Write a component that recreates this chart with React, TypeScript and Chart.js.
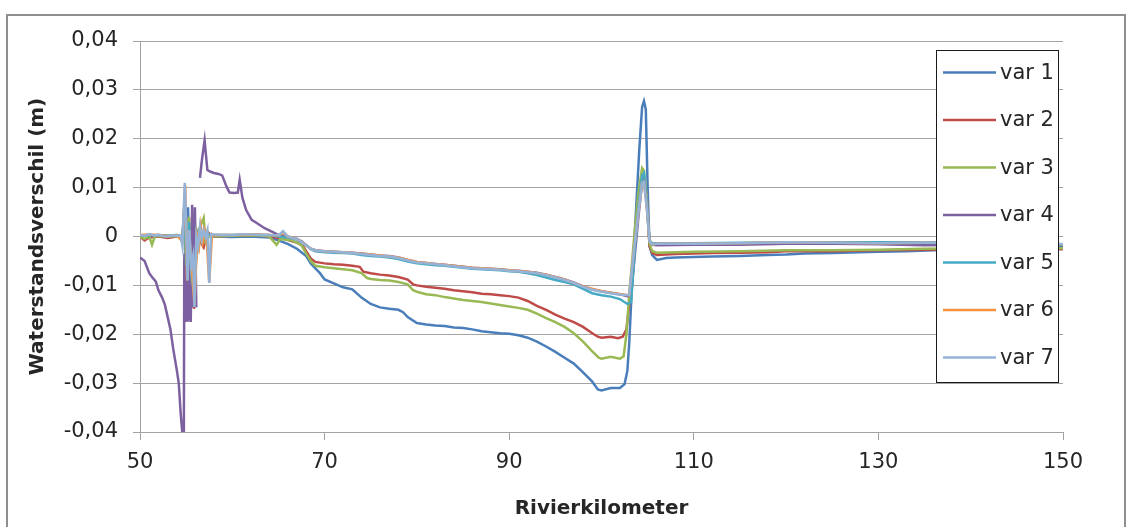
import { useEffect, useRef } from "react";
import { Chart, registerables } from "chart.js";

Chart.register(...registerables);

const seriesLabels = ["var 1", "var 2", "var 3", "var 4", "var 5", "var 6", "var 7"];
const seriesColors = ["#4A7EBB", "#BE4B48", "#98B954", "#7D60A0", "#46AAC5", "#F69240", "#95B3D7"];

const xTickMin = 50;
const xTickMax = 150;
const xTickStep = 20;
const yTickMin = -0.04;
const yTickMax = 0.04;
const yTickStep = 0.01;

const var1Km = [50, 51, 52, 53, 54, 54.6, 54.85, 55.0, 55.2, 55.4, 55.6, 55.8, 56.0, 56.3, 56.6, 57, 58, 60, 62, 64, 65, 66, 67, 68, 68.5, 69, 69.5, 70, 71, 72, 73, 74, 75, 76, 77, 78, 78.5, 79, 80, 81, 82, 83, 84, 85, 86, 87, 88, 89, 90, 91, 92, 93, 94, 95, 96, 97, 98, 99, 99.6, 100, 101, 102, 102.5, 102.8, 103.0, 103.3, 103.7, 104.1, 104.4, 104.6, 104.8, 105.0, 105.2, 105.5, 106, 107, 108, 110, 112, 115, 118, 120, 122, 125, 128, 130, 133, 136, 140, 145, 150];
const var1Val = [0.0002, 0.0001, 0.0003, 0.0001, 0.0002, 0, 0.008, -0.004, 0.006, -0.008, 0.002, -0.012, 0.001, -0.002, 0.0005, 0, 0, -0.0001, 0, -0.0002, -0.0008, -0.0015, -0.0025, -0.004, -0.0055, -0.0065, -0.0075, -0.0088, -0.0096, -0.0104, -0.0108, -0.0125, -0.0138, -0.0145, -0.0148, -0.015, -0.0155, -0.0165, -0.0177, -0.018, -0.0182, -0.0183, -0.0186, -0.0187, -0.019, -0.0194, -0.0196, -0.0198, -0.0199, -0.0202, -0.0207, -0.0215, -0.0225, -0.0236, -0.0248, -0.026, -0.0278, -0.0297, -0.0313, -0.0315, -0.031, -0.031, -0.0302, -0.0275, -0.022, -0.01, 0.004, 0.018, 0.0265, 0.0277, 0.026, 0.01, -0.002, -0.0038, -0.0048, -0.0044, -0.0043, -0.0042, -0.0041, -0.004, -0.0038, -0.0037, -0.0035, -0.0034, -0.0032, -0.0031, -0.003, -0.0028, -0.0025, -0.0023, -0.0022];

const var2Km = [50, 50.5, 51, 52, 53, 54, 54.6, 54.8, 55.0, 55.3, 55.6, 55.85, 56.1, 56.5, 56.9, 57.3, 57.8, 59, 61, 63, 64, 65.5, 66.5, 67.5, 68, 68.5, 69, 70, 71, 72, 73, 73.8, 74.2, 75, 76, 77, 78, 79, 79.6, 80, 81, 82, 83, 84, 85, 86, 87, 88, 89, 90, 91, 92, 93, 94, 95, 96, 97, 98, 99, 99.6, 100, 101, 101.8, 102.3, 102.7, 103, 103.5, 104, 104.4, 104.6, 104.9, 105.2, 105.5, 106, 108, 110, 112, 115, 118, 120, 125, 130, 135, 140, 145, 150];
const var2Val = [0, -0.0008, -0.0002, 0, -0.0003, 0, 0, 0.002, -0.006, 0.004, -0.01, -0.0148, 0, -0.001, -0.0022, 0.001, 0, 0.0001, 0.0002, 0.0003, 0, -0.0004, -0.001, -0.0015, -0.003, -0.0045, -0.0052, -0.0055, -0.0057, -0.0058, -0.006, -0.0062, -0.0072, -0.0075, -0.0078, -0.008, -0.0083, -0.0088, -0.0098, -0.01, -0.0103, -0.0105, -0.0107, -0.011, -0.0112, -0.0114, -0.0117, -0.0118, -0.012, -0.0122, -0.0125, -0.0132, -0.0142, -0.015, -0.016, -0.0168, -0.0175, -0.0185, -0.0198, -0.0205, -0.0207, -0.0205, -0.0208, -0.0205, -0.019, -0.014, -0.004, 0.006, 0.0115, 0.012, 0.008, -0.002, -0.0034, -0.0038, -0.0036, -0.0035, -0.0034, -0.0033, -0.0032, -0.003, -0.003, -0.0028, -0.0027, -0.0026, -0.0026, -0.0026];

const var3Km = [50, 50.5, 51, 51.3, 51.6, 52, 53, 54, 54.6, 54.8, 55.0, 55.3, 55.6, 56.0, 56.3, 56.9, 57.1, 57.5, 59, 61, 63, 64, 64.8, 65.2, 66.5, 67.5, 68, 68.5, 69, 70, 71, 72, 73, 74, 74.6, 75, 76, 77, 78, 79, 79.6, 80, 81, 82, 83, 84, 85, 86, 87, 88, 89, 90, 91, 92, 93, 94, 95, 96, 97, 98, 99, 99.7, 100, 101, 102, 102.4, 102.7, 103, 103.5, 104, 104.4, 104.6, 104.9, 105.2, 105.5, 106, 110, 115, 120, 125, 130, 135, 140, 145, 150];
const var3Val = [0, -0.0005, 0, -0.0017, 0, 0.0001, 0, 0.0001, 0, 0.003, -0.005, 0.004, -0.008, -0.007, 0.001, 0.0038, -0.001, 0, 0.0001, 0.0002, 0.0002, 0, -0.0017, -0.0005, -0.0008, -0.0018, -0.0035, -0.005, -0.006, -0.0063, -0.0065, -0.0067, -0.0069, -0.0075, -0.0085, -0.0087, -0.0089, -0.009, -0.0093, -0.0098, -0.011, -0.0113, -0.0118, -0.012, -0.0124, -0.0127, -0.013, -0.0132, -0.0134, -0.0137, -0.014, -0.0143, -0.0146, -0.015, -0.0158, -0.0167, -0.0175, -0.0185, -0.0198, -0.0215, -0.0235, -0.0248, -0.025, -0.0246, -0.025, -0.0245, -0.02, -0.012, -0.001, 0.009, 0.014, 0.0135, 0.008, -0.0015, -0.003, -0.0033, -0.0031, -0.003, -0.0028, -0.0028, -0.0027, -0.0025, -0.0024, -0.0024, -0.0024];

const var4Km = [50, 50.5, 51, 51.3, 51.7, 52, 52.4, 52.7, 53, 53.3, 53.6, 54, 54.2, 54.4, 54.6, 54.75, 54.8, 54.9, 55.0, 55.1, 55.2, 55.3, 55.4, 55.5, 55.65, 55.8, 55.95, 56.1, 56.3, 56.5, 56.7, 57, 57.3, 57.6, 58, 58.5, 58.9, 59.4, 59.7, 60.2, 60.6, 60.8, 61.1, 61.5, 62.1, 62.6, 63.5, 64.4, 65, 66, 67, 67.5, 68, 68.5, 69, 70, 71, 72, 73, 74, 75, 76, 77, 78, 79, 80, 81, 82, 83, 84, 85, 86, 87, 88, 89, 90, 91, 92, 93, 94, 95, 96, 97, 98, 99, 100, 101, 102, 102.8, 103.2, 103.6, 104, 104.4, 104.6, 104.9, 105.2, 105.5, 106, 110, 115, 120, 125, 130, 135, 140, 145, 150];
const var4Val = [-0.0043, -0.005, -0.0075, -0.0083, -0.0092, -0.011, -0.0125, -0.014, -0.0165, -0.019, -0.023, -0.0275, -0.03, -0.036, -0.0405, -0.0405, -0.0035, -0.0175, -0.006, -0.0172, -0.004, -0.017, -0.006, -0.0175, 0.0065, -0.0145, 0.006, -0.0145, null, 0.012, 0.0155, 0.0197, 0.0136, 0.0133, 0.013, 0.0128, 0.0125, 0.0101, 0.009, 0.0089, 0.009, 0.0116, 0.0079, 0.0054, 0.0034, 0.0028, 0.0017, 0.0009, 0.0003, 0, -0.0005, -0.001, -0.0018, -0.0025, -0.0028, -0.003, -0.0031, -0.0032, -0.0033, -0.0035, -0.0037, -0.0039, -0.004, -0.0043, -0.0048, -0.0052, -0.0054, -0.0056, -0.0058, -0.006, -0.0062, -0.0064, -0.0065, -0.0066, -0.0067, -0.0069, -0.007, -0.0072, -0.0074, -0.0078, -0.0083, -0.0088, -0.0094, -0.0102, -0.0108, -0.0112, -0.0115, -0.0118, -0.0122, -0.012, -0.004, 0.004, 0.011, 0.0115, 0.007, -0.001, -0.0017, -0.0018, -0.0017, -0.0017, -0.0015, -0.0015, -0.0016, -0.0018, -0.0017, -0.0017, -0.0017];

const var5Km = [50, 51, 52, 53, 54, 54.6, 54.85, 55.0, 55.3, 55.6, 55.9, 56.2, 56.6, 57, 58, 60, 62, 64, 65, 66, 67, 68, 68.5, 69, 70, 71, 72, 73, 74, 75, 76, 77, 78, 79, 80, 81, 82, 83, 84, 85, 86, 87, 88, 89, 90, 91, 92, 93, 94, 95, 96, 97, 98, 99, 100, 101, 102, 102.8, 103.2, 103.6, 104, 104.4, 104.6, 104.9, 105.2, 105.5, 106, 110, 115, 120, 125, 130, 135, 140, 145, 150];
const var5Val = [0.0003, 0.0002, 0.0003, 0.0002, 0.0003, 0, 0.007, -0.006, 0.003, -0.009, -0.011, 0.001, -0.001, 0.0005, 0.0003, 0.0003, 0.0004, 0.0003, 0, -0.0002, -0.0006, -0.0018, -0.0026, -0.003, -0.0032, -0.0033, -0.0034, -0.0035, -0.0038, -0.004, -0.0041, -0.0043, -0.0046, -0.0051, -0.0055, -0.0057, -0.0059, -0.006, -0.0062, -0.0064, -0.0066, -0.0067, -0.0068, -0.0069, -0.0071, -0.0072, -0.0075, -0.0079, -0.0084, -0.0089, -0.0093, -0.0098, -0.0107, -0.0116, -0.012, -0.0123, -0.0128, -0.0138, -0.0135, -0.003, 0.006, 0.0125, 0.013, 0.007, -0.0008, -0.0014, -0.0014, -0.0014, -0.0013, -0.0012, -0.0012, -0.0012, -0.0012, -0.0012, -0.0014, -0.0016];

const var6Km = [50, 51, 52, 53, 54, 54.6, 54.9, 55.1, 55.3, 55.5, 55.9, 56.2, 56.4, 56.6, 56.8, 57.0, 57.2, 57.5, 57.8, 58, 60, 62, 64, 65, 65.5, 66, 67, 67.5, 68, 68.5, 69, 70, 72, 74, 76, 78, 80, 82, 84, 86, 88, 90, 92, 94, 96, 98, 100, 102, 103, 103.5, 104, 104.4, 104.6, 104.9, 105.2, 105.5, 106, 110, 115, 120, 125, 130, 135, 140, 145, 150];
const var6Val = [0.0003, 0.0004, 0.0003, 0.0001, 0.0002, -0.001, 0.0105, -0.009, 0.0013, -0.004, -0.014, 0, -0.002, 0.002, -0.001, 0.0013, 0, -0.0095, 0.0005, 0.0003, 0.0003, 0.0004, 0.0003, 0.0002, 0.0008, 0, -0.0005, -0.0012, -0.0018, -0.0025, -0.0028, -0.003, -0.0032, -0.0035, -0.0039, -0.0043, -0.0052, -0.0056, -0.006, -0.0064, -0.0066, -0.0069, -0.0072, -0.0078, -0.0088, -0.0102, -0.0112, -0.0118, -0.012, -0.003, 0.005, 0.011, 0.0112, 0.006, -0.001, -0.0016, -0.0015, -0.0015, -0.0014, -0.0012, -0.0013, -0.0014, -0.0013, -0.0013, -0.0014, -0.0016];

const var7Km = [50, 50.5, 51, 51.5, 52, 52.5, 53, 53.5, 54, 54.4, 54.6, 54.85, 55.0, 55.15, 55.35, 55.55, 55.75, 55.9, 56.1, 56.3, 56.5, 56.7, 56.9, 57.1, 57.3, 57.5, 57.7, 58, 59, 60, 61, 62, 63, 64, 65, 65.5, 66, 66.5, 67, 67.5, 68, 68.5, 69, 70, 71, 72, 73, 74, 75, 76, 77, 78, 79, 80, 81, 82, 83, 84, 85, 86, 87, 88, 89, 90, 91, 92, 93, 94, 95, 96, 97, 98, 99, 100, 101, 102, 103, 103.5, 104, 104.4, 104.6, 104.9, 105.2, 105.5, 106, 110, 115, 120, 125, 130, 135, 140, 145, 150];
const var7Val = [0.0003, 0.0001, 0.0005, 0.0002, 0.0003, 0.0001, 0, 0.0002, 0.0001, 0.0002, -0.002, 0.011, 0.003, -0.009, 0.0013, -0.006, -0.004, -0.0144, 0, -0.002, 0.002, -0.0005, 0.0013, 0, 0.0013, -0.0095, 0.0005, 0.0004, 0.0003, 0.0003, 0.0004, 0.0004, 0.0003, 0.0003, 0.0002, 0.0011, 0, -0.0003, -0.0005, -0.0012, -0.0018, -0.0025, -0.0028, -0.003, -0.0031, -0.0032, -0.0034, -0.0036, -0.0038, -0.004, -0.0041, -0.0044, -0.0049, -0.0053, -0.0055, -0.0057, -0.0059, -0.0061, -0.0063, -0.0065, -0.0066, -0.0067, -0.0068, -0.007, -0.0071, -0.0073, -0.0075, -0.0079, -0.0084, -0.0089, -0.0095, -0.0103, -0.0109, -0.0113, -0.0116, -0.0119, -0.012, -0.003, 0.005, 0.011, 0.0112, 0.006, -0.001, -0.0016, -0.0015, -0.0015, -0.0014, -0.0012, -0.0013, -0.0014, -0.0013, -0.0013, -0.0014, -0.0016];

const seriesKm = [var1Km, var2Km, var3Km, var4Km, var5Km, var6Km, var7Km];
const seriesVal = [var1Val, var2Val, var3Val, var4Val, var5Val, var6Val, var7Val];

const xTitle = "Rivierkilometer";
const yTitle = "Waterstandsverschil (m)";

const FONT = "'DejaVu Sans', sans-serif";
const TEXT_COLOR = "#262626";
const GRID_COLOR = "#a3a3a3";

const legendPlugin = {
  id: "boxLegend",
  afterDatasetsDraw(chart: any) {
    const { ctx, chartArea } = chart;
    const boxW = 122;
    const boxH = 332;
    const left = chartArea.right - 127;
    const top = chartArea.top + 8.5;
    ctx.save();
    ctx.fillStyle = "#ffffff";
    ctx.fillRect(left, top, boxW, boxH);
    ctx.strokeStyle = "#1a1a1a";
    ctx.lineWidth = 1;
    ctx.strokeRect(Math.round(left) + 0.5, Math.round(top) + 0.5, boxW, boxH);
    ctx.font = "21px " + FONT;
    ctx.textBaseline = "middle";
    ctx.textAlign = "left";
    chart.data.datasets.forEach((ds: any, i: number) => {
      const y = top + 23 + i * 47.5;
      ctx.strokeStyle = ds.borderColor;
      ctx.lineWidth = 2.5;
      ctx.beginPath();
      ctx.moveTo(left + 7, y);
      ctx.lineTo(left + 60, y);
      ctx.stroke();
      ctx.fillStyle = TEXT_COLOR;
      ctx.fillText(ds.label, left + 64, y + 1);
    });
    ctx.restore();
  },
};

export default function App() {
  const canvasRef = useRef<HTMLCanvasElement | null>(null);

  useEffect(() => {
    document.body.style.margin = "0";
    const canvas = canvasRef.current;
    if (!canvas) return;
    const datasets = seriesLabels.map((label, i) => ({
      label,
      data: seriesKm[i].map((x, j) => ({ x, y: seriesVal[i][j] })),
      borderColor: seriesColors[i],
      backgroundColor: seriesColors[i],
      borderWidth: 2.5,
      pointRadius: 0,
      tension: 0,
      spanGaps: false,
      order: seriesLabels.length - i,
    }));
    const chart = new Chart(canvas, {
      type: "line",
      data: { datasets },
      plugins: [legendPlugin],
      options: {
        responsive: false,
        maintainAspectRatio: false,
        animation: false,
        layout: { padding: { top: 41, right: 65, left: 0, bottom: 0 } },
        plugins: {
          legend: { display: false },
          tooltip: { enabled: false },
        },
        scales: {
          x: {
            type: "linear",
            min: xTickMin,
            max: xTickMax,
            ticks: {
              stepSize: xTickStep,
              color: TEXT_COLOR,
              font: { family: FONT, size: 21 },
              padding: 10,
              maxRotation: 0,
            },
            grid: { drawOnChartArea: false, tickLength: 8, color: GRID_COLOR },
            border: { color: GRID_COLOR },
            title: {
              display: true,
              text: xTitle,
              color: TEXT_COLOR,
              font: { family: FONT, size: 20, weight: "bold" },
              padding: { top: 4, bottom: 6 },
            },
            afterFit: (s: any) => {
              s.height = 95;
            },
          },
          y: {
            min: yTickMin,
            max: yTickMax,
            ticks: {
              stepSize: yTickStep,
              color: TEXT_COLOR,
              font: { family: FONT, size: 21 },
              padding: 15,
              callback: (v: any) => {
                const n = Math.round(Number(v) * 100) / 100;
                if (n === 0) return "0";
                return n.toFixed(2).replace(".", ",");
              },
            },
            grid: { tickLength: 7, color: GRID_COLOR },
            border: { color: GRID_COLOR },
            title: {
              display: true,
              text: yTitle,
              color: TEXT_COLOR,
              font: { family: FONT, size: 20, weight: "bold" },
              padding: { top: 26, bottom: 0 },
            },
            afterFit: (s: any) => {
              s.width = 140;
            },
          },
        },
      },
    } as any);
    return () => chart.destroy();
  }, []);

  return (
    <div style={{ position: "relative", width: 1128, height: 527, overflow: "hidden", background: "#fff" }}>
      <canvas ref={canvasRef} width={1128} height={527} style={{ position: "absolute", left: 0, top: 0 }} />
      <div
        style={{
          position: "absolute",
          left: 6,
          top: 14,
          width: 1120,
          height: 540,
          border: "2px solid #8f8f8f",
          boxSizing: "border-box",
          pointerEvents: "none",
        }}
      />
    </div>
  );
}
